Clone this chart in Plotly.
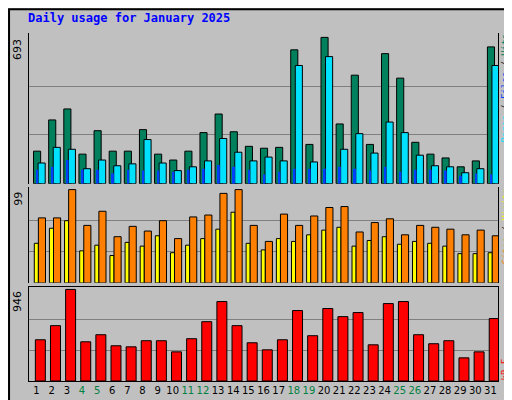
import plotly.graph_objects as go

days = list(range(1, 32))
hits = [154, 302, 354, 140, 251, 154, 154, 256, 140, 112, 154, 242, 330, 246, 177, 168,
        172, 634, 186, 693, 283, 514, 186, 616, 500, 196, 140, 122, 80, 108, 648]
files = [98, 172, 163, 71, 112, 85, 94, 209, 98, 62, 80, 108, 214, 149, 108, 126,
         108, 560, 103, 602, 163, 237, 145, 292, 242, 135, 85, 80, 52, 71, 560]
pages = [66, 80, 112, 66, 66, 48, 66, 62, 62, 57, 66, 71, 89, 80, 66, 43,
         57, 71, 71, 71, 80, 71, 62, 80, 57, 66, 66, 62, 38, 48, 43]
visits = [69, 69, 99, 61, 76, 49, 60, 55, 66, 47, 70, 72, 95, 99, 61, 44,
          73, 61, 71, 80, 81, 54, 64, 68, 51, 61, 59, 57, 51, 56, 50]
sites = [42, 58, 66, 34, 40, 29, 43, 39, 50, 32, 40, 47, 57, 75, 42, 35,
         47, 44, 51, 56, 59, 39, 45, 49, 41, 44, 42, 39, 31, 31, 32]
kbytes = [426, 572, 946, 405, 478, 364, 353, 416, 416, 301, 437, 613, 821, 572, 395, 322,
          426, 728, 468, 749, 665, 707, 374, 800, 821, 478, 385, 416, 239, 301, 645]
weekends = [4, 5, 11, 12, 18, 19, 25, 26]

ticktext = [f'<span style="color:#008040">{d}</span>' if d in weekends else str(d) for d in days]
line = dict(color="black", width=1)

fig = go.Figure()
fig.add_bar(x=days, y=hits, offset=-0.2, width=0.47, marker=dict(color="#00805C", line=line), yaxis="y")
fig.add_bar(x=days, y=files, offset=0.1, width=0.47, marker=dict(color="#00E0FF", line=line), yaxis="y")
fig.add_bar(x=days, y=pages, offset=-0.02, width=0.13, marker=dict(color="#0040FF", line=dict(width=0)), yaxis="y")
fig.add_bar(x=days, y=sites, offset=-0.15, width=0.27, marker=dict(color="#FFFF00", line=line), yaxis="y2")
fig.add_bar(x=days, y=visits, offset=0.12, width=0.47, marker=dict(color="#FF8000", line=line), yaxis="y2")
fig.add_bar(x=days, y=kbytes, offset=-0.08, width=0.66, marker=dict(color="#FF0000", line=line), yaxis="y3")


def yax(mx, dom):
    return dict(domain=dom, range=[0, mx * 1.03], tickvals=[mx / 3, 2 * mx / 3], showticklabels=False,
                gridcolor="#808080", gridwidth=1, zeroline=False, showline=True, linecolor="black",
                mirror=True, ticks="")


fig.update_layout(
    width=512, height=400, showlegend=False, barmode="overlay",
    paper_bgcolor="#C0C0C0", plot_bgcolor="#C0C0C0",
    margin=dict(l=21, r=22, t=25, b=24),
    font=dict(family="DejaVu Sans Mono", size=11, color="black"),
    xaxis=dict(range=[0.5, 31.5], tickvals=days, ticktext=ticktext, showline=True, linecolor="black",
               mirror=True, ticks="", anchor="y3", tickangle=0, tickfont=dict(size=10, family="DejaVu Sans")),
    yaxis=yax(max(hits), [0.567, 1]),
    yaxis2=yax(max(visits), [0.282, 0.558]),
    yaxis3=yax(max(kbytes), [0, 0.271]),
    title=dict(text="<b>Daily usage for January 2025</b>", x=20 / 512, xanchor="left", y=0.985, yanchor="top",
               font=dict(color="#0000FF", size=12, family="DejaVu Sans Mono")),
)

for mx, yref in [(max(hits), "y"), (max(visits), "y2"), (max(kbytes), "y3")]:
    fig.add_annotation(text=str(mx), xref="paper", x=-0.005, xanchor="right", yref=yref, y=mx,
                       yanchor="top", textangle=-90, showarrow=False, font=dict(size=11, family="DejaVu Sans"))

side = dict(xref="paper", x=1.003, xanchor="left", textangle=-90, showarrow=False,
            font=dict(size=9), borderpad=0)
fig.add_annotation(text='<span style="color:#00E0FF">Pages</span> / <span style="color:#0040FF">Files</span> / <span style="color:#00805C">Hits</span>',
                   yref="y domain", y=1, yanchor="top", **side)
fig.add_annotation(text='<span style="color:#FF8000">Sites</span> / <span style="color:#FFFF00">Visits</span>',
                   yref="y2 domain", y=1, yanchor="top", **side)
fig.add_annotation(text='<span style="color:#FF0000">kB F</span>',
                   yref="y3 domain", y=0, yanchor="bottom", **side)

# outer raised frame
fig.add_shape(type="rect", xref="paper", yref="paper", x0=-20 / 470, x1=1 + 20 / 470, y0=-22 / 351, y1=1 + 24 / 351,
              line=dict(color="black", width=2), layer="below")

fig.write_html("out.html")
